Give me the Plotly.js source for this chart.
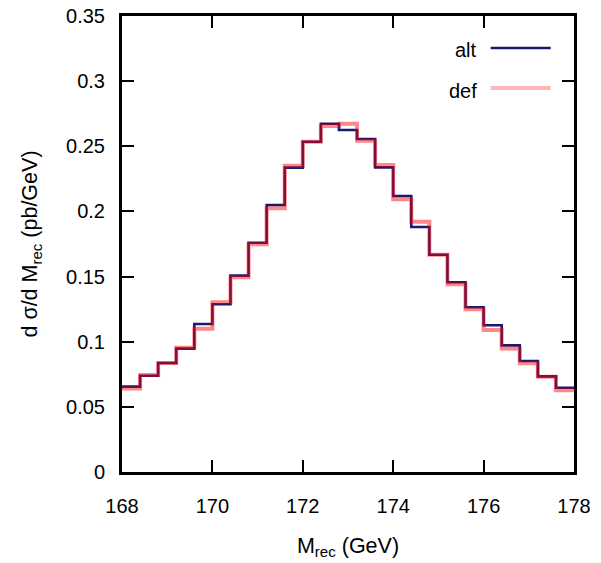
<!DOCTYPE html>
<html>
<head>
<meta charset="utf-8">
<script src="https://cdn.plot.ly/plotly-3.0.1.min.js"></script>
<style>html,body{margin:0;padding:0;background:#fff;}#chart{width:601px;height:563px;}</style>
</head>
<body>
<div id="chart"></div>
<script>
// Bin edges (GeV)
const binEdges = [168.0,168.4,168.8,169.2,169.6,170.0,170.4,170.8,171.2,171.6,172.0,172.4,172.8,
                  173.2,173.6,174.0,174.4,174.8,175.2,175.6,176.0,176.4,176.8,177.2,177.6,178.0];
// d sigma / d M_rec (pb/GeV) per bin
const altValues = [0.0655,0.0739,0.0837,0.0947,0.1136,0.1287,0.1507,0.1760,0.2049,0.2336,0.2535,0.2673,0.2625,
                   0.2556,0.2338,0.2118,0.1880,0.1668,0.1456,0.1264,0.1126,0.0972,0.0852,0.0734,0.0647];
const defValues = [0.0640,0.0744,0.0837,0.0954,0.1100,0.1302,0.1494,0.1748,0.2024,0.2351,0.2535,0.2656,0.2673,
                   0.2543,0.2356,0.2093,0.1921,0.1668,0.1441,0.1249,0.1090,0.0947,0.0834,0.0732,0.0627];
const seriesNames = ["alt", "def"];
const xTickVals = [168,170,172,174,176,178];
const yTickVals = [0,0.05,0.1,0.15,0.2,0.25,0.3,0.35];

const altColor = "#191970";
const defColor = "rgba(255,0,0,0.47)";
const font = "Liberation Sans, Arial, Helvetica, sans-serif";

function stepY(v){ return v.concat([v[v.length-1]]); }

const traces = [
  {x: binEdges, y: stepY(altValues), name: seriesNames[0], type: "scatter", mode: "lines",
   line: {shape: "hv", color: altColor, width: 2.6}, showlegend: false, hoverinfo: "skip"},
  {x: binEdges, y: stepY(defValues), name: seriesNames[1], type: "scatter", mode: "lines",
   line: {shape: "hv", color: defColor, width: 4}, showlegend: false, hoverinfo: "skip"}
];

const axisCommon = {
  showline: true, linecolor: "#000", linewidth: 3, mirror: "ticks",
  ticks: "inside", ticklen: 12, tickwidth: 2, tickcolor: "#000",
  showgrid: false, zeroline: false,
  tickfont: {family: font, size: 20, color: "#000"}
};

const layout = {
  width: 601, height: 563,
  margin: {l: 122, r: 27, t: 16, b: 91},
  paper_bgcolor: "#fff", plot_bgcolor: "#fff",
  font: {family: font, color: "#000"},
  xaxis: Object.assign({}, axisCommon, {
    range: [168, 178], tickvals: xTickVals, ticklabelstandoff: 14,
    title: {text: "M<sub>rec</sub> (GeV)", font: {family: font, size: 21.5}, standoff: 22}
  }),
  yaxis: Object.assign({}, axisCommon, {
    range: [0, 0.35], tickvals: yTickVals, ticklabelstandoff: 10,
    title: {text: "d σ/d M<sub>rec</sub> (pb/GeV)", font: {family: font, size: 21.5}, standoff: 23}
  }),
  annotations: [
    {xref: "paper", yref: "paper", x: 0.79, y: 0.926, xanchor: "right", yanchor: "middle",
     text: seriesNames[0], showarrow: false, font: {family: font, size: 20, color: "#000"}},
    {xref: "paper", yref: "paper", x: 0.79, y: 0.836, xanchor: "right", yanchor: "middle",
     text: seriesNames[1], showarrow: false, font: {family: font, size: 20, color: "#000"}}
  ],
  shapes: [
    {type: "line", xref: "paper", yref: "paper", x0: 0.8157, x1: 0.9485, y0: 0.9298, y1: 0.9298,
     line: {color: altColor, width: 2.6}},
    {type: "line", xref: "paper", yref: "paper", x0: 0.8157, x1: 0.9485, y0: 0.8421, y1: 0.8421,
     line: {color: "rgba(255,0,0,0.28)", width: 4}}
  ]
};

Plotly.newPlot("chart", traces, layout, {staticPlot: true, displayModeBar: false});
</script>
</body>
</html>
